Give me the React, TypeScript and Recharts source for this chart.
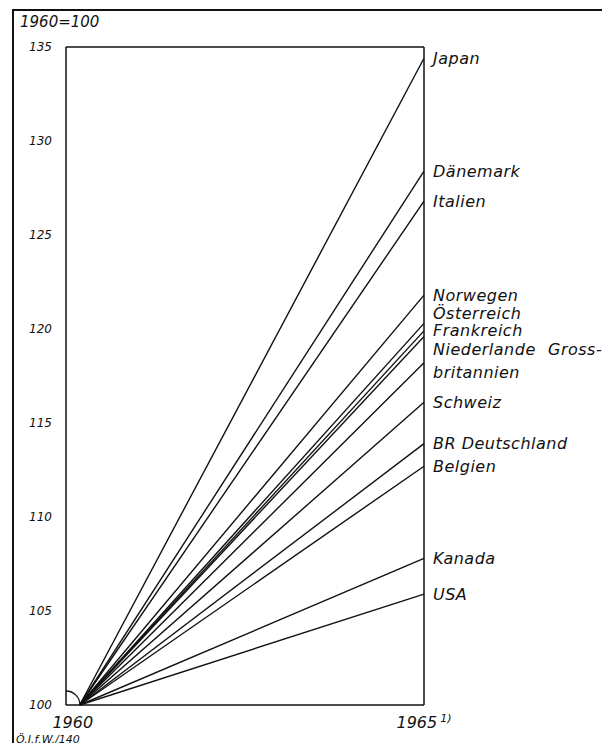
import React from "react";
import { LineChart, Line, XAxis, YAxis, ReferenceLine, ReferenceDot } from "recharts";

// Index 1960 = 100, Werte 1965
const years = [1960, 1965];
const countries = [
  "Japan",
  "Dänemark",
  "Italien",
  "Norwegen",
  "Österreich",
  "Frankreich",
  "Niederlande",
  "Grossbritannien",
  "Schweiz",
  "BR Deutschland",
  "Belgien",
  "Kanada",
  "USA",
];
const baseValues = [100, 100, 100, 100, 100, 100, 100, 100, 100, 100, 100, 100, 100];
const values1965 = [134.4, 128.4, 126.8, 121.8, 120.3, 119.9, 119.6, 118.2, 116.1, 113.9, 112.7, 107.8, 105.9];
const yTicks = [100, 105, 110, 115, 120, 125, 130, 135];

const data = years.map((year, i) => {
  const row: Record<string, number> = { year };
  countries.forEach((c, j) => {
    row[c] = i === 0 ? baseValues[j] : values1965[j];
  });
  return row;
});

const FONT = "'DejaVu Sans', sans-serif";

// Verschiebung der Beschriftungen rechts (wie im Original etwas auseinandergezogen)
const labelNudge: Record<string, number> = {
  "Österreich": -10,
  Niederlande: 13,
  Grossbritannien: 10,
};

function endLabel(name: string) {
  return (props: any) => {
    const { x, y, index } = props;
    if (index !== 1) return null;
    const ty = y + (labelNudge[name] || 0);
    const style = {
      fontFamily: FONT,
      fontStyle: "italic" as const,
      fontSize: 16,
      letterSpacing: 0.5,
      fill: "#111",
    };
    if (name === "Grossbritannien") {
      return (
        <g>
          <text x={x + 124} y={ty - 23} dominantBaseline="central" style={style}>
            Gross-
          </text>
          <text x={x + 9} y={ty} dominantBaseline="central" style={style}>
            britannien
          </text>
        </g>
      );
    }
    return (
      <text x={x + 9} y={ty} dominantBaseline="central" style={style}>
        {name}
      </text>
    );
  };
}

const YTick = (props: any) => {
  const { x, y, payload } = props;
  return (
    <text x={x - 6} y={y} textAnchor="end" dominantBaseline="central"
      style={{ fontFamily: FONT, fontStyle: "italic", fontSize: 12, fill: "#111" }}>
      {payload.value}
    </text>
  );
};

const XTick = (props: any) => {
  const { x, y, payload } = props;
  const first = payload.value === 1960;
  return (
    <text x={first ? x - 7 : x} y={y + 15} textAnchor="middle"
      style={{ fontFamily: FONT, fontStyle: "italic", fontSize: 16, fill: "#111" }}>
      {payload.value}
      {!first && (
        <tspan dx={3} dy={-6} fontSize={11}>1)</tspan>
      )}
    </text>
  );
};

const CornerArc = (props: any) => {
  const { cx, cy } = props;
  const r = 14;
  return (
    <path d={`M ${cx} ${cy - r} A ${r} ${r} 0 0 1 ${cx + r} ${cy}`} fill="none" stroke="#111" strokeWidth={1.3} />
  );
};

export default function App() {
  return (
    <div style={{ position: "relative", width: 610, height: 751, margin: -8, background: "#fff" }}>
      <div style={{ position: "absolute", left: 12, top: 9, width: 598, height: 742,
        borderLeft: "2px solid #111", borderTop: "2px solid #111" }} />
      <div style={{ position: "absolute", left: 20, top: 13, fontFamily: FONT, fontStyle: "italic",
        fontSize: 15, color: "#111" }}>
        1960=100
      </div>
      <div style={{ position: "absolute", left: 16, top: 733, fontFamily: FONT, fontStyle: "italic",
        fontSize: 11, lineHeight: "13px", color: "#111" }}>
        Ö.I.f.W./140
      </div>
      <div style={{ position: "absolute", left: 0, top: 0 }}>
        <LineChart width={610} height={751} data={data}
          margin={{ top: 47, right: 186, bottom: 16, left: 16 }}>
          <XAxis dataKey="year" type="number" domain={[1959.8, 1965]} ticks={years}
            height={30} tickLine={false} tick={<XTick />}
            axisLine={{ stroke: "#111", strokeWidth: 1.5 }} />
          <YAxis type="number" domain={[100, 135]} ticks={yTicks} width={50}
            tickLine={false} tick={<YTick />} axisLine={{ stroke: "#111", strokeWidth: 1.5 }} />
          <ReferenceLine y={135} stroke="#111" strokeWidth={1.5} />
          <ReferenceLine x={1965} stroke="#111" strokeWidth={1.5} />
          <ReferenceDot x={1959.8} y={100} r={14} shape={<CornerArc />} />
          {countries.map((c) => (
            <Line key={c} dataKey={c} stroke="#111" strokeWidth={1.4} dot={false}
              isAnimationActive={false} label={endLabel(c)} />
          ))}
        </LineChart>
      </div>
    </div>
  );
}
